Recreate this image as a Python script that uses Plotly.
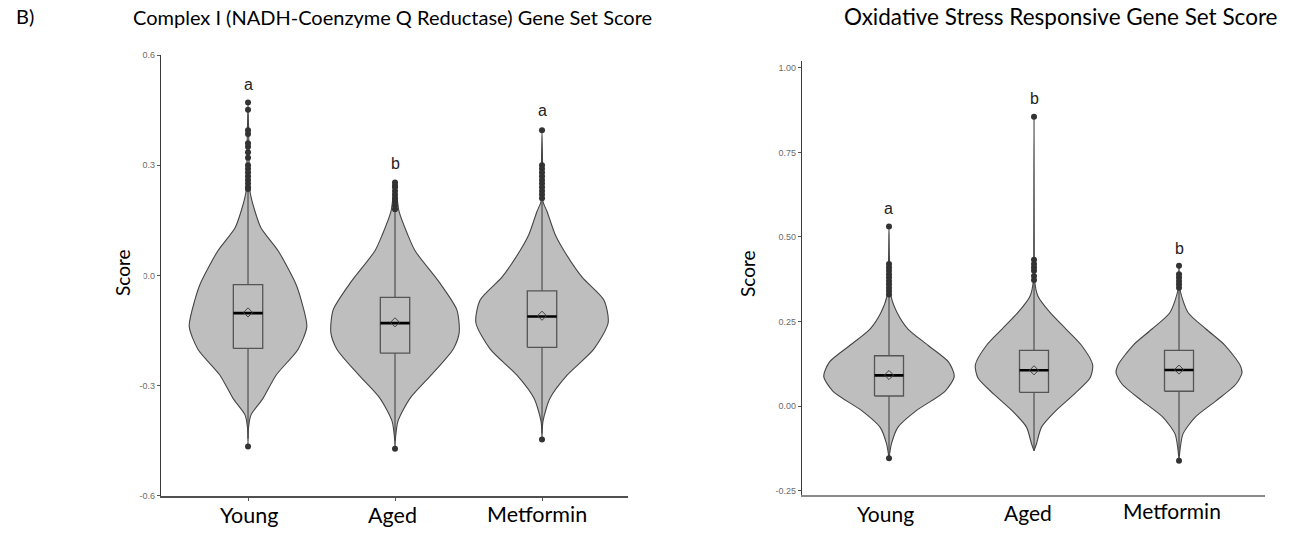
import plotly.graph_objects as go

categories = ["Young", "Aged", "Metformin"]

# ---------------- Panel 1: Complex I gene set score ----------------
c1_young_levels = [0.471, 0.335, 0.228, 0.174, 0.129, 0.067, -0.022, -0.067, -0.139, -0.201, -0.272, -0.335, -0.380, -0.415, -0.466]
c1_young_dens = [0.0, 0.015, 0.03, 0.106, 0.197, 0.455, 0.72, 0.803, 0.889, 0.758, 0.424, 0.227, 0.045, 0.008, 0.0]
c1_aged_levels = [0.253, 0.174, 0.112, 0.067, -0.022, -0.094, -0.156, -0.201, -0.272, -0.335, -0.397, -0.442, -0.472]
c1_aged_dens = [0.0, 0.061, 0.189, 0.303, 0.682, 0.935, 0.970, 0.879, 0.545, 0.227, 0.045, 0.008, 0.0]
c1_met_levels = [0.395, 0.308, 0.201, 0.174, 0.112, 0.067, -0.005, -0.067, -0.129, -0.201, -0.272, -0.335, -0.397, -0.447]
c1_met_dens = [0.0, 0.008, 0.015, 0.076, 0.197, 0.333, 0.606, 0.935, 1.0, 0.783, 0.379, 0.121, 0.015, 0.0]

c1_q1 = [-0.199, -0.212, -0.196]
c1_median = [-0.103, -0.130, -0.112]
c1_q3 = [-0.025, -0.060, -0.042]
c1_mean = [-0.101, -0.128, -0.110]
c1_whisker_low = [-0.445, -0.450, -0.430]
c1_whisker_high = [0.228, 0.174, 0.201]
c1_out_young = [0.471, 0.451, 0.395, 0.385, 0.36, 0.35, 0.335, 0.32, 0.30, 0.29, 0.28, 0.27, 0.26, 0.25, 0.24, 0.235, -0.466]
c1_out_aged = [0.253, 0.245, 0.24, 0.23, 0.22, 0.21, 0.20, 0.19, 0.18, -0.472]
c1_out_met = [0.395, 0.30, 0.29, 0.28, 0.27, 0.26, 0.25, 0.24, 0.23, 0.22, 0.21, -0.447]
c1_letters = ["a", "b", "a"]
c1_letter_y = [0.52, 0.305, 0.45]

# ---------------- Panel 2: Oxidative stress gene set score ----------------
ox_young_levels = [0.531, 0.423, 0.325, 0.277, 0.228, 0.180, 0.131, 0.088, 0.044, -0.014, -0.062, -0.111, -0.154]
ox_young_dens = [0.0, 0.008, 0.031, 0.123, 0.291, 0.597, 0.911, 1.0, 0.858, 0.413, 0.138, 0.038, 0.0]
ox_aged_levels = [0.855, 0.433, 0.373, 0.325, 0.277, 0.228, 0.180, 0.122, 0.083, 0.035, -0.014, -0.062, -0.111, -0.132]
ox_aged_dens = [0.0, 0.005, 0.008, 0.061, 0.245, 0.490, 0.727, 0.899, 0.858, 0.613, 0.332, 0.115, 0.038, 0.0]
ox_met_levels = [0.415, 0.344, 0.277, 0.228, 0.180, 0.122, 0.098, 0.064, 0.015, -0.033, -0.082, -0.130, -0.161]
ox_met_dens = [0.0, 0.015, 0.138, 0.413, 0.704, 0.934, 0.965, 0.868, 0.562, 0.245, 0.061, 0.015, 0.0]

ox_q1 = [0.030, 0.041, 0.044]
ox_median = [0.091, 0.106, 0.107]
ox_q3 = [0.149, 0.165, 0.165]
ox_mean = [0.092, 0.106, 0.108]
ox_whisker_low = [-0.140, -0.132, -0.145]
ox_whisker_high = [0.325, 0.373, 0.344]
ox_out_young = [0.531, 0.42, 0.41, 0.40, 0.39, 0.38, 0.37, 0.36, 0.35, 0.34, 0.33, -0.154]
ox_out_aged = [0.855, 0.433, 0.42, 0.41, 0.40, 0.385, 0.373]
ox_out_met = [0.415, 0.39, 0.38, 0.37, 0.36, 0.35, -0.161]
ox_letters = ["a", "b", "b"]
ox_letter_y = [0.584, 0.91, 0.467]

FILL = "#bebebe"
EDGE = "#454545"
HALF_MAX = 0.45
BOX_HALF = 0.1

fig = go.Figure()


def add_panel(xa, ya, levels, dens, q1, med, q3, mean, wlo, whi, outs):
    for i in range(len(categories)):
        lv, dn = levels[i], dens[i]
        hw = [HALF_MAX * d for d in dn]
        xs = [i + h for h in hw] + [i - h for h in reversed(hw)]
        ys = list(lv) + list(reversed(lv))
        fig.add_trace(go.Scatter(x=xs, y=ys, mode="lines", fill="toself", fillcolor=FILL,
                                 line=dict(color=EDGE, width=1.1, shape="spline", smoothing=0.7),
                                 xaxis=xa, yaxis=ya, hoverinfo="skip"))
        fig.add_trace(go.Scatter(x=[i, i], y=[wlo[i], whi[i]], mode="lines",
                                 line=dict(color=EDGE, width=1.1), xaxis=xa, yaxis=ya, hoverinfo="skip"))
        fig.add_trace(go.Scatter(x=[i - BOX_HALF, i + BOX_HALF, i + BOX_HALF, i - BOX_HALF, i - BOX_HALF],
                                 y=[q1[i], q1[i], q3[i], q3[i], q1[i]], mode="lines", fill="toself",
                                 fillcolor=FILL, line=dict(color="#555555", width=1.3),
                                 xaxis=xa, yaxis=ya, hoverinfo="skip"))
        fig.add_trace(go.Scatter(x=[i - BOX_HALF, i + BOX_HALF], y=[med[i], med[i]], mode="lines",
                                 line=dict(color="#000000", width=2.6), xaxis=xa, yaxis=ya, hoverinfo="skip"))
        fig.add_trace(go.Scatter(x=[i], y=[mean[i]], mode="markers",
                                 marker=dict(symbol="diamond-open", size=7, color="#444444", line=dict(width=1)),
                                 xaxis=xa, yaxis=ya, hoverinfo="skip"))
        fig.add_trace(go.Scatter(x=[i] * len(outs[i]), y=outs[i], mode="markers",
                                 marker=dict(symbol="circle", size=6, color="#333333"),
                                 xaxis=xa, yaxis=ya, hoverinfo="skip"))


add_panel("x", "y",
          [c1_young_levels, c1_aged_levels, c1_met_levels],
          [c1_young_dens, c1_aged_dens, c1_met_dens],
          c1_q1, c1_median, c1_q3, c1_mean, c1_whisker_low, c1_whisker_high,
          [c1_out_young, c1_out_aged, c1_out_met])
add_panel("x2", "y2",
          [ox_young_levels, ox_aged_levels, ox_met_levels],
          [ox_young_dens, ox_aged_dens, ox_met_dens],
          ox_q1, ox_median, ox_q3, ox_mean, ox_whisker_low, ox_whisker_high,
          [ox_out_young, ox_out_aged, ox_out_met])

W, H = 1290, 535
TICKFONT = dict(family="Liberation Sans, Arial", size=9, color="#6b6b6b")
BIG = "Lato, Open Sans, sans-serif"

yaxis_common = dict(showgrid=False, zeroline=False, showline=True, linecolor="#3a3a3a", linewidth=1.4,
                    ticks="outside", ticklen=3, tickcolor="#555555", tickfont=TICKFONT)

fig.update_layout(
    width=W, height=H, margin=dict(l=0, r=0, t=0, b=0),
    paper_bgcolor="white", plot_bgcolor="white", showlegend=False,
    xaxis=dict(domain=[161 / W, 628 / W], range=[-0.592, 2.585], anchor="y",
               showgrid=False, zeroline=False, showline=True, linecolor="#505050", linewidth=2,
               showticklabels=False, ticks="outside", ticklen=3, tickcolor="#555555",
               tickvals=[0, 1, 2]),
    yaxis=dict(domain=[1 - 500 / H, 1 - 51 / H], range=[-0.6, 0.6], anchor="x",
               tickvals=[-0.6, -0.3, 0.0, 0.3, 0.6], ticktext=["-0.6", "-0.3", "0.0", "0.3", "0.6"],
               **yaxis_common),
    xaxis2=dict(domain=[802 / W, 1265 / W], range=[-0.6, 2.593], anchor="y2",
                showgrid=False, zeroline=False, showline=True, linecolor="#8a8a8a", linewidth=1.6,
                showticklabels=False, ticks=""),
    yaxis2=dict(domain=[1 - 499 / H, 1 - 57 / H], range=[-0.2616, 1.0203], anchor="x2",
                tickvals=[-0.25, 0.0, 0.25, 0.5, 0.75, 1.0],
                ticktext=["-0.25", "0.00", "0.25", "0.50", "0.75", "1.00"], **yaxis_common),
)

ann = []
# significance letters
for i, (t, yv) in enumerate(zip(c1_letters, c1_letter_y)):
    ann.append(dict(x=i, y=yv, xref="x", yref="y", text=t, showarrow=False, xanchor="center", yanchor="middle",
                    font=dict(family="Liberation Sans, Arial", size=16, color="#222222")))
for i, (t, yv) in enumerate(zip(ox_letters, ox_letter_y)):
    ann.append(dict(x=i, y=yv, xref="x2", yref="y2", text=t, showarrow=False, xanchor="center", yanchor="middle",
                    font=dict(family="Liberation Sans, Arial", size=16, color="#222222")))

# category labels
c1_shift = [1, -3, -5]
c1_lab_y = [15, 15, 16]
ox_shift = [-3, -6, -7]
ox_lab_y = [17, 18, 20]
for i, c in enumerate(categories):
    ann.append(dict(x=i, y=c1_lab_y[i] / H, xref="x", yref="paper", text=c, showarrow=False, xshift=c1_shift[i],
                    xanchor="center", yanchor="middle",
                    font=dict(family=BIG, size=21.5, color="#000000")))
    ann.append(dict(x=i, y=ox_lab_y[i] / H, xref="x2", yref="paper", text=c, showarrow=False,
                    xshift=ox_shift[i], xanchor="center", yanchor="middle",
                    font=dict(family=BIG, size=21, color="#000000")))

# titles
ann.append(dict(x=392 / W, y=1 - 12 / H, xref="paper", yref="paper", showarrow=False,
                xanchor="center", yanchor="middle",
                text="Complex I (NADH-Coenzyme Q Reductase) Gene Set Score",
                font=dict(family=BIG, size=20, color="#000000")))
ann.append(dict(x=1061 / W, y=1 - 12 / H, xref="paper", yref="paper", showarrow=False,
                xanchor="center", yanchor="middle",
                text="Oxidative Stress Responsive Gene Set Score",
                font=dict(family=BIG, size=22.5, color="#000000")))
ann.append(dict(x=25 / W, y=1 - 11 / H, xref="paper", yref="paper", showarrow=False,
                xanchor="center", yanchor="middle",
                text="B)", font=dict(family=BIG, size=20, color="#000000")))

# y titles
ann.append(dict(x=123 / W, y=1 - 273 / H, xref="paper", yref="paper", showarrow=False, textangle=-90,
                xanchor="center", yanchor="middle",
                text="Score", bgcolor="white", borderpad=9,
                font=dict(family=BIG, size=19, color="#000000")))
ann.append(dict(x=748 / W, y=1 - 274 / H, xref="paper", yref="paper", showarrow=False, textangle=-90,
                xanchor="center", yanchor="middle",
                text="Score", font=dict(family=BIG, size=19, color="#000000")))

fig.update_layout(annotations=ann)
fig.write_html("out.html")
